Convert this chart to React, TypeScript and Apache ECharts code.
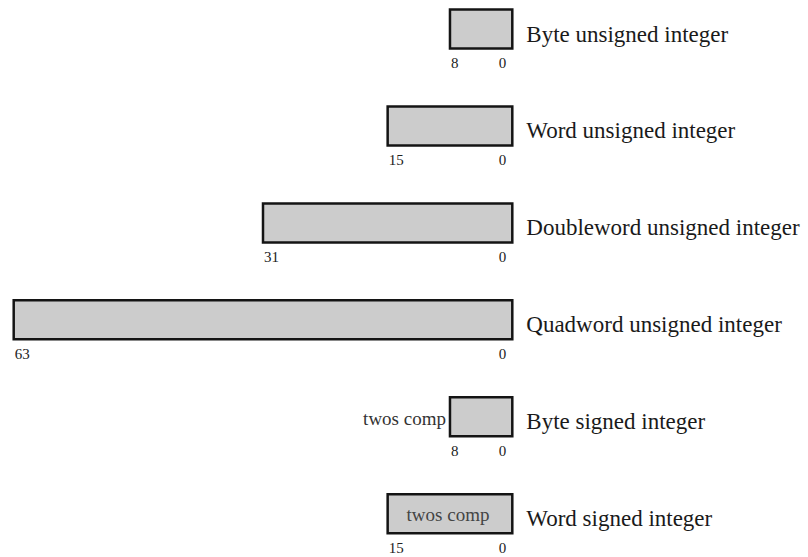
import React, { useEffect, useRef } from "react";
import * as echarts from "echarts";

const categories = [
  "Byte unsigned integer",
  "Word unsigned integer",
  "Doubleword unsigned integer",
  "Quadword unsigned integer",
  "Byte signed integer",
  "Word signed integer",
];
const bitWidths = [8, 16, 32, 64, 8, 16];
const highBitLabels = ["8", "15", "31", "63", "8", "15"];
const lowBitLabel = "0";
const twosCompText = "twos comp";
const twosCompPlacement = ["", "", "", "", "outside", "inside"];

const FONT = "'Liberation Serif', 'Times New Roman', serif";

export default function App() {
  const ref = useRef<HTMLDivElement>(null);

  useEffect(() => {
    if (!ref.current) return;
    const chart = echarts.init(ref.current, undefined, { renderer: "svg" });
    const data = bitWidths.map((b, i) => [b, i]);

    const renderItem = (params: any, api: any) => {
      const i = params.dataIndex;
      const bits = api.value(0);
      const idx = api.value(1);
      const p0 = api.coord([0, idx]);
      const p1 = api.coord([bits, idx]);
      const xl = Math.min(p0[0], p1[0]);
      const xr = Math.max(p0[0], p1[0]);
      const yc = p0[1];
      const h = 39;
      const children: any[] = [
        {
          type: "rect",
          shape: { x: xl, y: yc - h / 2, width: xr - xl, height: h },
          style: { fill: "#cccccc", stroke: "#141414", lineWidth: 2.5 },
        },
        {
          type: "text",
          x: xl + 1,
          y: yc + 34,
          style: {
            text: highBitLabels[i],
            fontSize: 15,
            fontFamily: FONT,
            fill: "#222",
            align: "left",
            verticalAlign: "middle",
          },
        },
        {
          type: "text",
          x: xr - 6,
          y: yc + 34,
          style: {
            text: lowBitLabel,
            fontSize: 15,
            fontFamily: FONT,
            fill: "#222",
            align: "right",
            verticalAlign: "middle",
          },
        },
        {
          type: "text",
          x: xr + 14,
          y: yc + 5,
          style: {
            text: categories[i],
            fontSize: 23,
            fontFamily: FONT,
            fill: "#1a1a1a",
            align: "left",
            verticalAlign: "middle",
          },
        },
      ];
      const place = twosCompPlacement[i];
      if (place === "outside") {
        children.push({
          type: "text",
          x: xl - 4,
          y: yc + 2,
          style: {
            text: twosCompText,
            fontSize: 19,
            fontFamily: FONT,
            fill: "#333",
            align: "right",
            verticalAlign: "middle",
          },
        });
      } else if (place === "inside") {
        children.push({
          type: "text",
          x: (xl + xr) / 2 - 2,
          y: yc + 1,
          style: {
            text: twosCompText,
            fontSize: 19,
            fontFamily: FONT,
            fill: "#444",
            align: "center",
            verticalAlign: "middle",
          },
        });
      }
      return { type: "group", children };
    };

    chart.setOption({
      animation: false,
      backgroundColor: "#ffffff",
      grid: { left: 13.7, right: 295.7, top: 29, bottom: 43.3 },
      xAxis: {
        type: "value",
        min: 0,
        max: 64,
        inverse: true,
        show: false,
      },
      yAxis: {
        type: "category",
        data: categories,
        inverse: true,
        boundaryGap: false,
        show: false,
      },
      series: [
        {
          type: "custom",
          renderItem,
          data,
          encode: { x: 0, y: 1 },
          clip: false,
        },
      ],
    });

    return () => chart.dispose();
  }, []);

  return (
    <div
      ref={ref}
      style={{ position: "fixed", left: 0, top: 0, width: 808, height: 557 }}
    />
  );
}
